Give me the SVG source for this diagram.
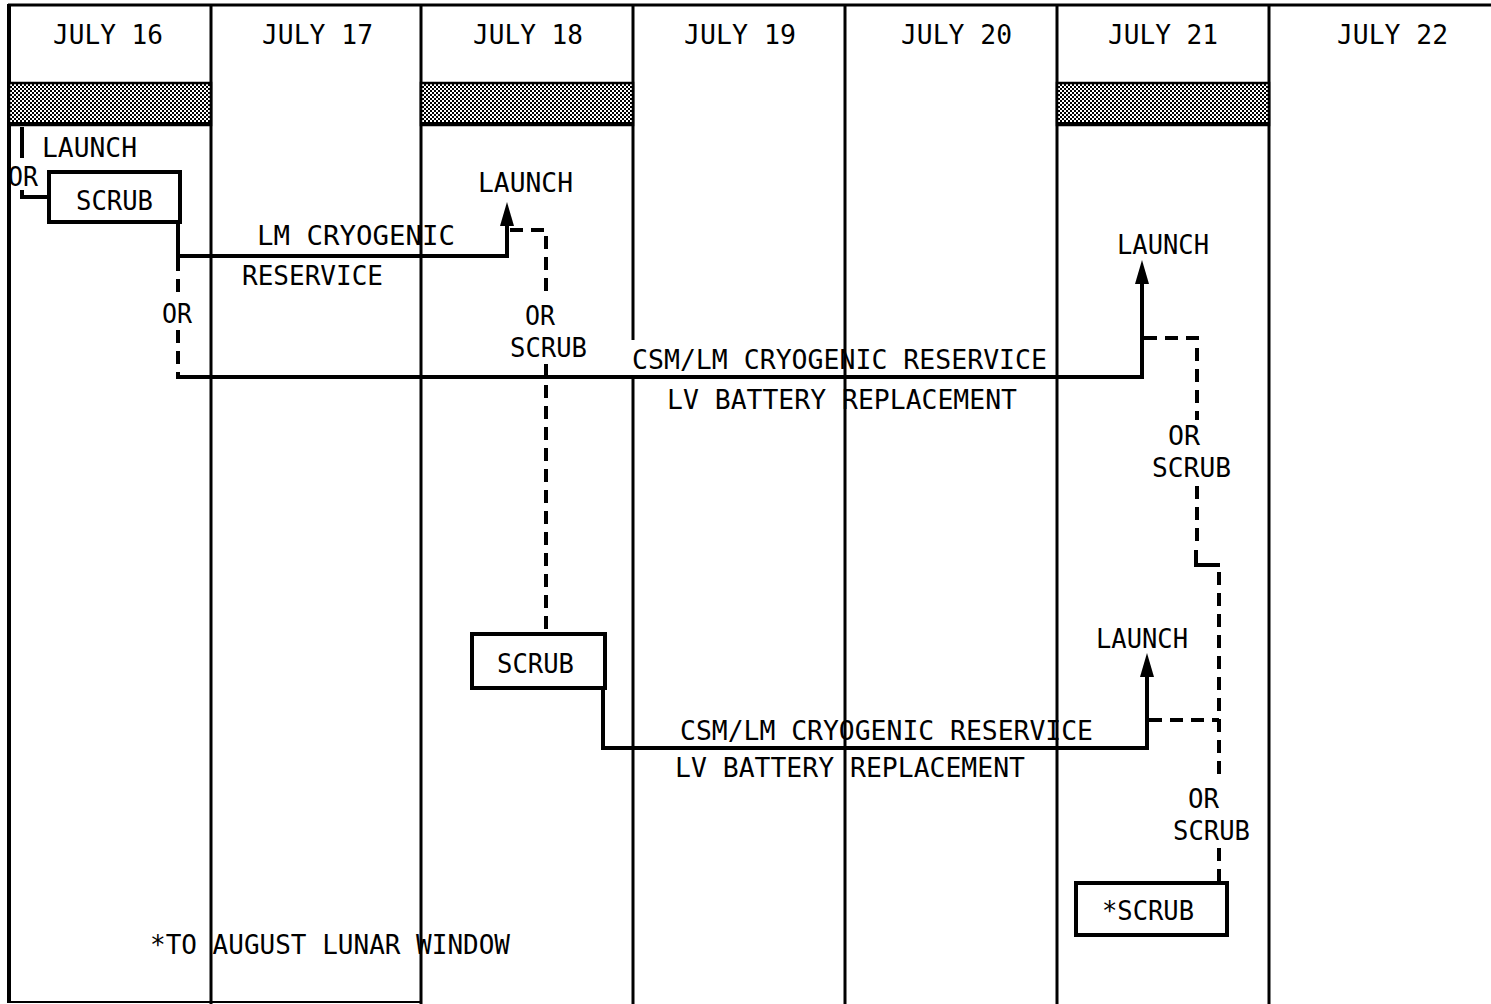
<svg xmlns="http://www.w3.org/2000/svg" width="1491" height="1004" viewBox="0 0 1491 1004">
<style>
.t{font-family:"DejaVu Sans Mono","Liberation Mono",monospace;font-size:27px;fill:#000}
.grid{stroke:#000;stroke-width:3;fill:none}
.solid{stroke:#000;stroke-width:4;fill:none;stroke-linejoin:miter}
.dash{stroke:#000;stroke-width:4;fill:none;stroke-dasharray:13 8}
.box{stroke:#000;stroke-width:4;fill:#fff}
.hatch{fill:url(#chk);stroke:#000;stroke-width:2.5}
</style>
<defs>
<pattern id="chk" width="4" height="4" patternUnits="userSpaceOnUse">
<rect width="4" height="4" fill="#fff"/>
<rect width="2" height="2" fill="#000"/>
<rect x="2" y="2" width="2" height="2" fill="#000"/>
</pattern>
<marker id="arr" markerUnits="userSpaceOnUse" markerWidth="26" markerHeight="16" refX="0" refY="8" orient="auto" viewBox="0 0 26 16">
<path d="M0,1 L24,8 L0,15 z" fill="#000"/>
</marker>
</defs>
<rect width="1491" height="1004" fill="#fff"/>
<g id="grid">
<line class="grid" x1="8" y1="5" x2="1491" y2="5"/>
<line class="grid" x1="9" y1="4" x2="9" y2="1003" style="stroke-width:4"/>
<line class="grid" x1="9" y1="1002" x2="421" y2="1002" style="stroke-width:2"/>
<line class="grid" x1="211" y1="4" x2="211" y2="1004"/>
<line class="grid" x1="421" y1="4" x2="421" y2="1004"/>
<line class="grid" x1="633" y1="4" x2="633" y2="340"/>
<line class="grid" x1="633" y1="376" x2="633" y2="1004"/>
<line class="grid" x1="845" y1="4" x2="845" y2="1004"/>
<line class="grid" x1="1057" y1="4" x2="1057" y2="1004"/>
<line class="grid" x1="1269" y1="4" x2="1269" y2="1004"/>
<rect class="hatch" x="9" y="83" width="202" height="42"/>
<rect class="hatch" x="421" y="83" width="212" height="42"/>
<rect class="hatch" x="1057" y="83" width="212" height="42"/>
<line class="grid" x1="9" y1="124" x2="211" y2="124" style="stroke-width:4"/>
<line class="grid" x1="421" y1="124" x2="633" y2="124" style="stroke-width:4"/>
<line class="grid" x1="1057" y1="124" x2="1269" y2="124" style="stroke-width:4"/>
</g>
<g id="headers">
<text class="t" x="53" y="44" textLength="110" lengthAdjust="spacingAndGlyphs">JULY 16</text>
<text class="t" x="262" y="44" textLength="111" lengthAdjust="spacingAndGlyphs">JULY 17</text>
<text class="t" x="473" y="44" textLength="110" lengthAdjust="spacingAndGlyphs">JULY 18</text>
<text class="t" x="684" y="44" textLength="112" lengthAdjust="spacingAndGlyphs">JULY 19</text>
<text class="t" x="901" y="44" textLength="111" lengthAdjust="spacingAndGlyphs">JULY 20</text>
<text class="t" x="1108" y="44" textLength="110" lengthAdjust="spacingAndGlyphs">JULY 21</text>
<text class="t" x="1337" y="44" textLength="111" lengthAdjust="spacingAndGlyphs">JULY 22</text>
</g>
<g id="connectors">
<path class="solid" d="M22,127 V158"/>
<path class="solid" d="M22,190 V197 H50"/>
<path class="solid" d="M178,222 V256 H507 V226" marker-end="url(#arr)"/>
<path class="dash" d="M178,258 V300 M178,330 V375"/>
<path class="solid" d="M176,377 H1142 V284" marker-end="url(#arr)"/>
<path class="dash" d="M510,230 H546 V298 M546,364 V634"/>
<path class="solid" d="M603,688 V748 H1147 V677" marker-end="url(#arr)"/>
<path class="dash" d="M1144,338 H1197 V420 M1197,486 V548"/>
<path class="solid" d="M1196,550 V565 H1220"/>
<path class="dash" d="M1219,572 V776 M1219,848 V883"/>
<path class="dash" d="M1149,720 H1219"/>
</g>
<g id="launch-jul16"><text class="t" x="42" y="157" textLength="95" lengthAdjust="spacingAndGlyphs">LAUNCH</text></g>
<g id="or-jul16"><text class="t" x="8" y="186" textLength="30" lengthAdjust="spacingAndGlyphs">OR</text></g>
<g id="scrub-jul16">
<rect class="box" x="49" y="172" width="131" height="50"/>
<text class="t" x="76" y="210" textLength="77" lengthAdjust="spacingAndGlyphs">SCRUB</text>
</g>
<g id="launch-jul18"><text class="t" x="478" y="192" textLength="95" lengthAdjust="spacingAndGlyphs">LAUNCH</text></g>
<g id="lm-cryo">
<text class="t" x="257" y="245" textLength="198" lengthAdjust="spacingAndGlyphs">LM CRYOGENIC</text>
<text class="t" x="242" y="285" textLength="141" lengthAdjust="spacingAndGlyphs">RESERVICE</text>
</g>
<g id="or-a"><text class="t" x="162" y="323" textLength="30" lengthAdjust="spacingAndGlyphs">OR</text></g>
<g id="or-scrub-jul18">
<text class="t" x="525" y="325" textLength="30" lengthAdjust="spacingAndGlyphs">OR</text>
<text class="t" x="510" y="357" textLength="77" lengthAdjust="spacingAndGlyphs">SCRUB</text>
</g>
<g id="csm-upper">
<text class="t" x="632" y="369" textLength="415" lengthAdjust="spacingAndGlyphs">CSM/LM CRYOGENIC RESERVICE</text>
<text class="t" x="667" y="409" textLength="350" lengthAdjust="spacingAndGlyphs">LV BATTERY REPLACEMENT</text>
</g>
<g id="launch-jul21-upper"><text class="t" x="1117" y="254" textLength="92" lengthAdjust="spacingAndGlyphs">LAUNCH</text></g>
<g id="or-scrub-jul21-upper">
<text class="t" x="1168" y="445" textLength="32" lengthAdjust="spacingAndGlyphs">OR</text>
<text class="t" x="1152" y="477" textLength="79" lengthAdjust="spacingAndGlyphs">SCRUB</text>
</g>
<g id="scrub-jul18">
<rect class="box" x="472" y="634" width="133" height="54"/>
<text class="t" x="497" y="673" textLength="77" lengthAdjust="spacingAndGlyphs">SCRUB</text>
</g>
<g id="launch-jul21-lower"><text class="t" x="1096" y="648" textLength="92" lengthAdjust="spacingAndGlyphs">LAUNCH</text></g>
<g id="csm-lower">
<text class="t" x="680" y="740" textLength="413" lengthAdjust="spacingAndGlyphs">CSM/LM CRYOGENIC RESERVICE</text>
<text class="t" x="675" y="777" textLength="350" lengthAdjust="spacingAndGlyphs">LV BATTERY REPLACEMENT</text>
</g>
<g id="or-scrub-jul21-lower">
<text class="t" x="1188" y="808" textLength="31" lengthAdjust="spacingAndGlyphs">OR</text>
<text class="t" x="1173" y="840" textLength="77" lengthAdjust="spacingAndGlyphs">SCRUB</text>
</g>
<g id="scrub-august">
<rect class="box" x="1076" y="883" width="151" height="52"/>
<text class="t" x="1102" y="920" textLength="92" lengthAdjust="spacingAndGlyphs">*SCRUB</text>
</g>
<g id="footnote"><text class="t" x="150" y="954" textLength="360" lengthAdjust="spacingAndGlyphs">*TO AUGUST LUNAR WINDOW</text></g>
</svg>
